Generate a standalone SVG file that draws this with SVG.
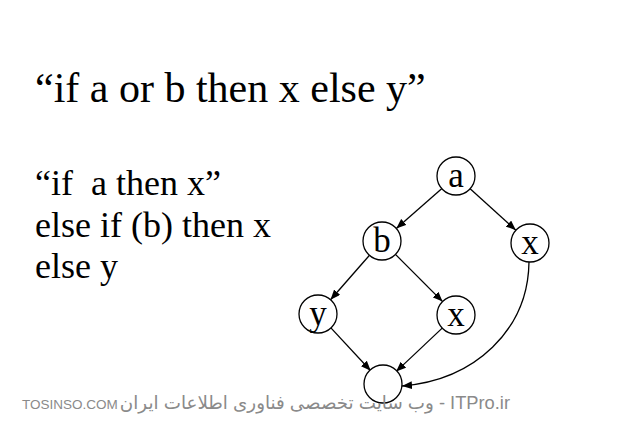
<svg xmlns="http://www.w3.org/2000/svg" width="621" height="424" viewBox="0 0 621 424">
<style>
.t{font-family:"Liberation Serif","Times New Roman",serif;fill:#000}
.n circle{fill:#fff;stroke:#000;stroke-width:1.3}
.n text{font-family:"Liberation Serif","Times New Roman",serif;font-size:35px;text-anchor:middle;fill:#000}
#edges path{fill:none;stroke:#000;stroke-width:1.3;marker-end:url(#ah)}
.wm{font-family:"Liberation Sans","DejaVu Sans",sans-serif;fill:#8a8a8a}
</style>
<defs>
<marker id="ah" viewBox="0 0 10 8" refX="10" refY="4" markerWidth="10" markerHeight="8" markerUnits="userSpaceOnUse" orient="auto">
<path d="M0,0 L10,4 L0,8 Z" fill="#000"/>
</marker>
</defs>
<rect width="621" height="424" fill="#fff"/>
<text class="t" x="35" y="102" font-size="42">“if a or b then x else y”</text>
<text class="t" x="35" y="195" font-size="36" xml:space="preserve">“if  a then x”</text>
<text class="t" x="35" y="237" font-size="36">else if (b) then x</text>
<text class="t" x="35" y="278" font-size="36">else y</text>
<g id="edges">
<path d="M442.5,187.9 L396.3,228.5"/>
<path d="M469.3,188.1 L515.9,230.3"/>
<path d="M369.5,255.3 L330.5,299.7"/>
<path d="M395.4,254.4 L442.6,301.6"/>
<path d="M330.9,327.9 L370.7,370.8"/>
<path d="M442.2,328.1 L396.1,371.6"/>
<path d="M529,262 C528,330 475,380 402,386"/>
</g>
<g id="node-a" class="n"><circle cx="456" cy="176" r="19"/><text x="456" y="187">a</text></g>
<g id="node-b" class="n"><circle cx="382" cy="241" r="19"/><text x="382" y="252">b</text></g>
<g id="node-x1" class="n"><circle cx="530" cy="243" r="19"/><text x="530" y="254">x</text></g>
<g id="node-y" class="n"><circle cx="318" cy="314" r="19"/><text x="318" y="325">y</text></g>
<g id="node-x2" class="n"><circle cx="456" cy="315" r="19"/><text x="456" y="326">x</text></g>
<g id="node-end" class="n"><circle cx="383" cy="384" r="19"/></g>
<text class="wm" x="22" y="409" font-size="13.5">TOSINSO.COM</text>
<text class="wm" x="510" y="409" font-size="18.3" text-anchor="end">وب سایت تخصصی فناوری اطلاعات ایران - ITPro.ir</text>
</svg>
